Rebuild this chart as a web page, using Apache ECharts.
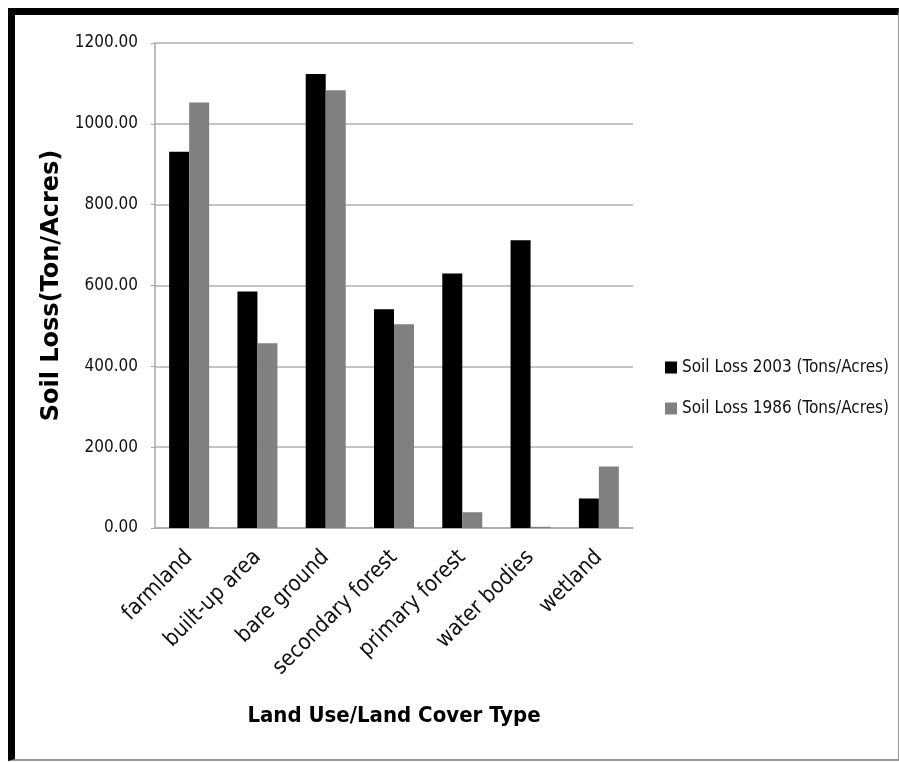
<!DOCTYPE html>
<html>
<head>
<meta charset="utf-8">
<script src="https://cdn.jsdelivr.net/npm/echarts@6/dist/echarts.min.js"></script>
<style>
  html, body { margin: 0; padding: 0; background: #fff; }
  #container { position: absolute; left: 0; top: 0; width: 899px; height: 763px; }
  #frame {
    position: absolute; left: 8px; top: 8px; width: 891px; height: 753px;
    box-sizing: border-box; pointer-events: none;
    border-top: 7px solid #000; border-left: 7px solid #000;
    border-right: 1px solid #999; border-bottom: 2px solid #999;
  }
</style>
</head>
<body>
<div id="container"></div>
<div id="frame"></div>
<script>
// land use types
const landTypes = ['farmland', 'built-up area', 'bare ground', 'secondary forest', 'primary forest', 'water bodies', 'wetland']
// soil loss values
const loss2003 = [931, 585, 1123, 541, 630, 712, 73]
const loss1986 = [1053, 457, 1083, 504, 39, 3, 152]
const seriesNames = ['Soil Loss 2003 (Tons/Acres)', 'Soil Loss 1986 (Tons/Acres)']

const font = "'Liberation Sans Narrow', 'DejaVu Sans Condensed', 'Liberation Sans', sans-serif"

let chart = echarts.init(document.getElementById('container'))
chart.setOption({
  animation: false,
  textStyle: { fontFamily: font },
  grid: { left: 155, right: 266, top: 43, bottom: 235 },
  legend: {
    orient: 'vertical',
    left: 660,
    top: 354,
    itemWidth: 12,
    itemHeight: 12,
    itemGap: 24,
    icon: 'rect',
    textStyle: { fontSize: 17, color: '#111', fontFamily: font },
    data: seriesNames
  },
  xAxis: {
    type: 'category',
    data: landTypes,
    name: 'Land Use/Land Cover Type',
    nameLocation: 'middle',
    nameGap: 177,
    nameTextStyle: { fontSize: 22, fontWeight: 'bold', color: '#000', fontFamily: font },
    axisLine: { lineStyle: { color: '#a6a6a6', width: 1.5 } },
    axisTick: { show: false },
    axisLabel: { rotate: 45, fontSize: 22, color: '#111', margin: 26, interval: 0, fontFamily: font }
  },
  yAxis: {
    type: 'value',
    min: 0,
    max: 1200,
    interval: 200,
    name: 'Soil Loss(Ton/Acres)',
    nameLocation: 'middle',
    nameGap: 84,
    nameTextStyle: { fontSize: 24, fontWeight: 'bold', color: '#000', fontFamily: "'DejaVu Sans', sans-serif" },
    axisLine: { show: true, lineStyle: { color: '#a6a6a6', width: 1.5 } },
    axisTick: { show: true, length: 4, lineStyle: { color: '#a6a6a6' } },
    splitLine: { lineStyle: { color: '#b0b0b0', width: 1.5 } },
    axisLabel: {
      fontSize: 17, color: '#111', margin: 17, fontFamily: font,
      formatter: v => v.toFixed(2)
    }
  },
  series: [
    {
      name: seriesNames[0],
      type: 'bar',
      data: loss2003,
      barWidth: 20,
      barGap: '0%',
      itemStyle: { color: '#000' }
    },
    {
      name: seriesNames[1],
      type: 'bar',
      data: loss1986,
      barWidth: 20,
      itemStyle: { color: '#808080' }
    }
  ]
})
</script>
</body>
</html>
